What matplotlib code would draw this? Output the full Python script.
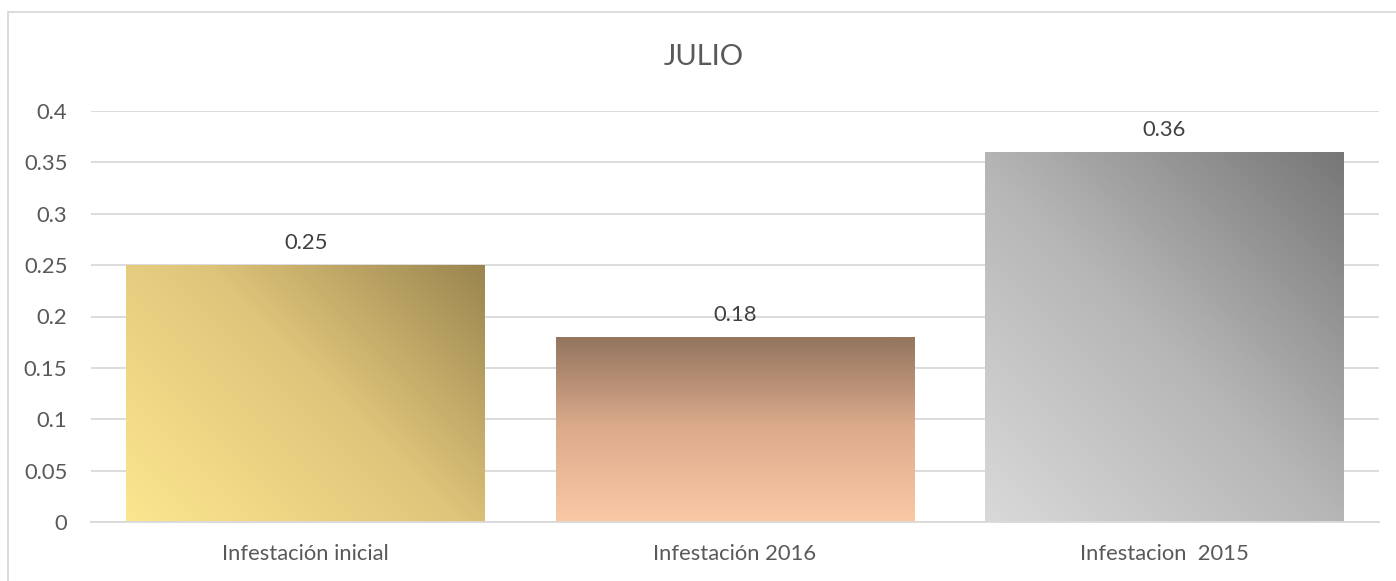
import numpy as np
import matplotlib
matplotlib.use("Agg")
import matplotlib.pyplot as plt
from matplotlib.colors import LinearSegmentedColormap

plt.rcParams['font.family'] = ['Lato', 'DejaVu Sans']

# Datos
categorias = ["Infestación inicial", "Infestación 2016", "Infestacion  2015"]
valores = [0.25, 0.18, 0.36]
ticks_y = [0, 0.05, 0.1, 0.15, 0.2, 0.25, 0.3, 0.35, 0.4]
etiquetas_y = ["0", "0.05", "0.1", "0.15", "0.2", "0.25", "0.3", "0.35", "0.4"]

# Degradados (claro -> oscuro) y dirección
degradados = [
    ([(0, "#FCE68F"), (0.55, "#DEC47A"), (1, "#9A854F")], "diag"),
    ([(0, "#F9C8A5"), (0.5, "#DDAC8D"), (1, "#94755E")], "vert"),
    ([(0, "#D9D9D9"), (0.5, "#B5B5B5"), (1, "#777777")], "diag"),
]

fig = plt.figure(figsize=(13.96, 5.81), dpi=100)
ax_l, ax_r, ax_t, ax_b = 91, 1379, 111, 522
ax = fig.add_axes([ax_l / 1396, 1 - ax_b / 581, (ax_r - ax_l) / 1396, (ax_b - ax_t) / 581])

barras = ax.bar(range(len(valores)), valores, width=0.836, color="none", zorder=2)

n = 300
xx, yy = np.meshgrid(np.linspace(0, 1, n), np.linspace(0, 1, n))
px_por_x = (ax_r - ax_l) / 3.0
px_por_y = (ax_b - ax_t) / 0.4
for barra, valor, (colores, modo) in zip(barras, valores, degradados):
    cmap = LinearSegmentedColormap.from_list("g", colores)
    x0, y0 = barra.get_x(), barra.get_y()
    w, h = barra.get_width(), barra.get_height()
    if modo == "diag":
        wp, hp = w * px_por_x, h * px_por_y
        grad = (xx * wp + yy * hp) / (wp + hp)
    else:
        grad = yy
    im = ax.imshow(grad, cmap=cmap, origin="lower", aspect="auto",
                   extent=[x0, x0 + w, y0, y0 + h], zorder=2)
    im.set_clip_path(barra)
    ax.text(x0 + w / 2, valor + 0.012, f"{valor:g}", ha="center", va="bottom",
            fontsize=15.8, color="#404040", zorder=3)

ax.set_xlim(-0.5, 2.5)
ax.set_ylim(0, 0.4)
ax.set_yticks(ticks_y)
ax.set_yticklabels(etiquetas_y)
ax.set_xticks(range(len(categorias)))
ax.set_xticklabels(categorias)
ax.yaxis.grid(True, color="#D9D9D9", linewidth=1.3, zorder=0)
ax.set_axisbelow(True)
for lado in ["top", "right", "left"]:
    ax.spines[lado].set_visible(False)
ax.spines["bottom"].set_color("#D9D9D9")
ax.spines["bottom"].set_linewidth(1.3)
ax.tick_params(axis="both", length=0, labelsize=15.8, colors="#595959")
ax.tick_params(axis="x", pad=16)
ax.tick_params(axis="y", pad=17)

fig.text(704 / 1396, 1 - 57 / 581, "JULIO", ha="center", va="center",
         fontsize=21, color="#595959")

# Borde del gráfico
borde = plt.Rectangle((8 / 1396, -0.01), 1.1, 1 - 12 / 581 + 0.01, transform=fig.transFigure,
                      fill=False, edgecolor="#D9D9D9", linewidth=1.3)
fig.add_artist(borde)

fig.savefig("out.png", dpi=100)
